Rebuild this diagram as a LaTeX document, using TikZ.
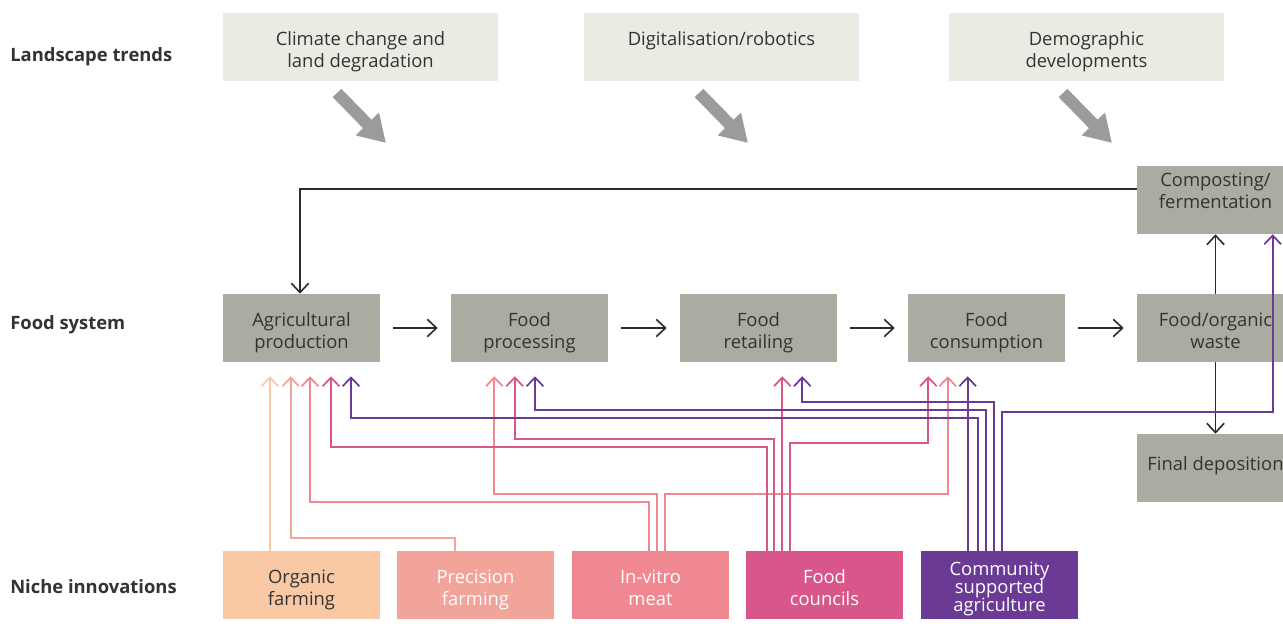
\documentclass[tikz,border=0pt]{standalone}
\usepackage{fontspec}
\setmainfont{Open Sans}
\usetikzlibrary{arrows.meta}
\definecolor{boxgray}{HTML}{AAACA2}
\definecolor{lightbox}{HTML}{E9ECE3}
\definecolor{bigarrow}{HTML}{9A9C9B}
\definecolor{txt}{HTML}{333333}
\definecolor{linedark}{HTML}{2B2B2B}
\definecolor{cOrg}{HTML}{F9C8A5}
\definecolor{cPre}{HTML}{F2A39A}
\definecolor{cInv}{HTML}{F08891}
\definecolor{cFc}{HTML}{D85689}
\definecolor{cCsa}{HTML}{6A3A95}
\newcommand\tightlines{\lineskiplimit=-20pt\relax}
\begin{document}
\begin{tikzpicture}[x=0.75pt,y=-0.75pt,
  base/.style={rectangle, inner sep=0pt, align=center, text=txt,
    font=\fontsize{13.8}{16.5}\selectfont, text height=33pt, text depth=3pt},
  oneline/.style={text height=6pt, text depth=9pt},
  land/.style={base, fill=lightbox, minimum width=206.25pt, minimum height=51pt},
  sys/.style={base, fill=boxgray, minimum width=117.75pt, minimum height=51pt},
  niche/.style={base, minimum width=117.75pt, minimum height=51pt, text=white},
  rowlbl/.style={anchor=base west, inner sep=0pt, text=txt, font=\fontsize{13.8}{16}\selectfont\bfseries},
  big/.style={draw=bigarrow, line width=9pt, -{Triangle[length=20pt,width=23pt]}},
  blk/.style={draw=linedark, line width=1.2pt, -{Straight Barb[length=7pt,width=13pt]}},
  cl/.style={line width=1.3pt, -{Straight Barb[length=6.5pt,width=12.5pt]}, shorten >=10.5pt},
  lo/.style={cl, draw=cOrg},
  lp/.style={cl, draw=cPre},
  li/.style={cl, draw=cInv},
  lf/.style={cl, draw=cFc},
  lc/.style={cl, draw=cCsa}]
\clip (0,0) rectangle (1283,632);
\fill[white] (0,0) rectangle (1283,632);

% row labels
\node[rowlbl] (l1) at (10,61.5) {Landscape trends};
\node[rowlbl] (l2) at (10,329) {Food system};
\node[rowlbl] (l3) at (10,593.5) {Niche innovations};

% landscape trends
\node[land] (clim) at (360.5,47) {Climate change and\\land degradation};
\node[land, oneline] (dig) at (721.5,47) {Digitalisation/robotics};
\node[land] (demo) at (1086.5,47) {Demographic\\developments};

% big arrows
\coordinate (a1s) at (337,93); \coordinate (a1e) at (386,143);
\coordinate (a2s) at (699,93); \coordinate (a2e) at (748,143);
\coordinate (a3s) at (1063,93); \coordinate (a3e) at (1112,143);
\draw[big] (a1s) -- (a1e);
\draw[big] (a2s) -- (a2e);
\draw[big] (a3s) -- (a3e);

% food system
\node[sys] (agri) at (301.5,328) {Agricultural\\production};
\node[sys] (proc) at (529.5,328) {Food\\processing};
\node[sys] (ret) at (758.5,328) {Food\\retailing};
\node[sys] (cons) at (986.5,328) {Food\\consumption};
\node[sys] (waste) at (1215.5,328) {Food/organic\\waste};
\node[sys, text height=15pt, text depth=3pt] (comp) at (1215.5,200) {Composting/\\fermentation};
\node[sys, text height=9pt, text depth=6pt] (final) at (1215.5,468) {Final deposition};

% niche innovations
\node[niche, fill=cOrg, text=txt] (org) at (301.5,585) {Organic\\farming};
\node[niche, fill=cPre] (pre) at (475.5,585) {Precision\\farming};
\node[niche, fill=cInv] (inv) at (650.5,585) {In-vitro\\meat};
\node[niche, fill=cFc] (fc) at (824.5,585) {Food\\councils};
\node[niche, fill=cCsa, font=\fontsize{13.8}{13.5}\selectfont\tightlines, text height=42pt, text depth=3pt] (csa) at (999.5,585) {Community\\supported\\agriculture};

% food system flow
\draw[blk, shorten <=9.75pt, shorten >=9.75pt] (agri.east) -- (proc.west);
\draw[blk, shorten <=9.75pt, shorten >=9.75pt] (proc.east) -- (ret.west);
\draw[blk, shorten <=9.75pt, shorten >=9.75pt] (ret.east) -- (cons.west);
\draw[blk, shorten <=9.75pt, shorten >=9.75pt] (cons.east) -- (waste.west);
\draw[blk] (waste.north) -- (comp.south);
\draw[blk] (waste.south) -- (final.north);
\draw[blk] (comp.west |- 0,189) -| (agri.north -| 300,0);

% niche connectors
\draw[lo] (org.north -| 270,0) -- (agri.south -| 270,0);
\draw[lp] (pre.north -| 455,0) |- (290.7,537.7) -- (agri.south -| 290.7,0);

\draw[li] (inv.north -| 649,0) |- (310,501.7) -- (agri.south -| 310,0);
\draw[li] (inv.north -| 657,0) |- (494.3,494.3) -- (proc.south -| 494.3,0);
\draw[li] (inv.north -| 665,0) |- (947.7,494.3) -- (cons.south -| 947.7,0);

\draw[lf] (fc.north -| 766.7,0) |- (331,446.7) -- (agri.south -| 331,0);
\draw[lf] (fc.north -| 774.3,0) |- (514.7,439) -- (proc.south -| 514.7,0);
\draw[lf] (fc.north -| 782.3,0) -- (ret.south -| 782.3,0);
\draw[lf] (fc.north -| 790,0) |- (928.3,443.3) -- (cons.south -| 928.3,0);

\draw[lc] (csa.north -| 977.7,0) |- (351,417.7) -- (agri.south -| 351,0);
\draw[lc] (csa.north -| 985.7,0) |- (535,410) -- (proc.south -| 535,0);
\draw[lc] (csa.north -| 994,0) |- (802.3,401.7) -- (ret.south -| 802.3,0);
\draw[lc] (csa.north -| 967.7,0) -- (cons.south -| 967.7,0);
\draw[lc, shorten >=0pt] (csa.north -| 1001.7,0) |- (1272.7,411.7) -- (comp.south -| 1272.7,0);
\end{tikzpicture}
\end{document}
